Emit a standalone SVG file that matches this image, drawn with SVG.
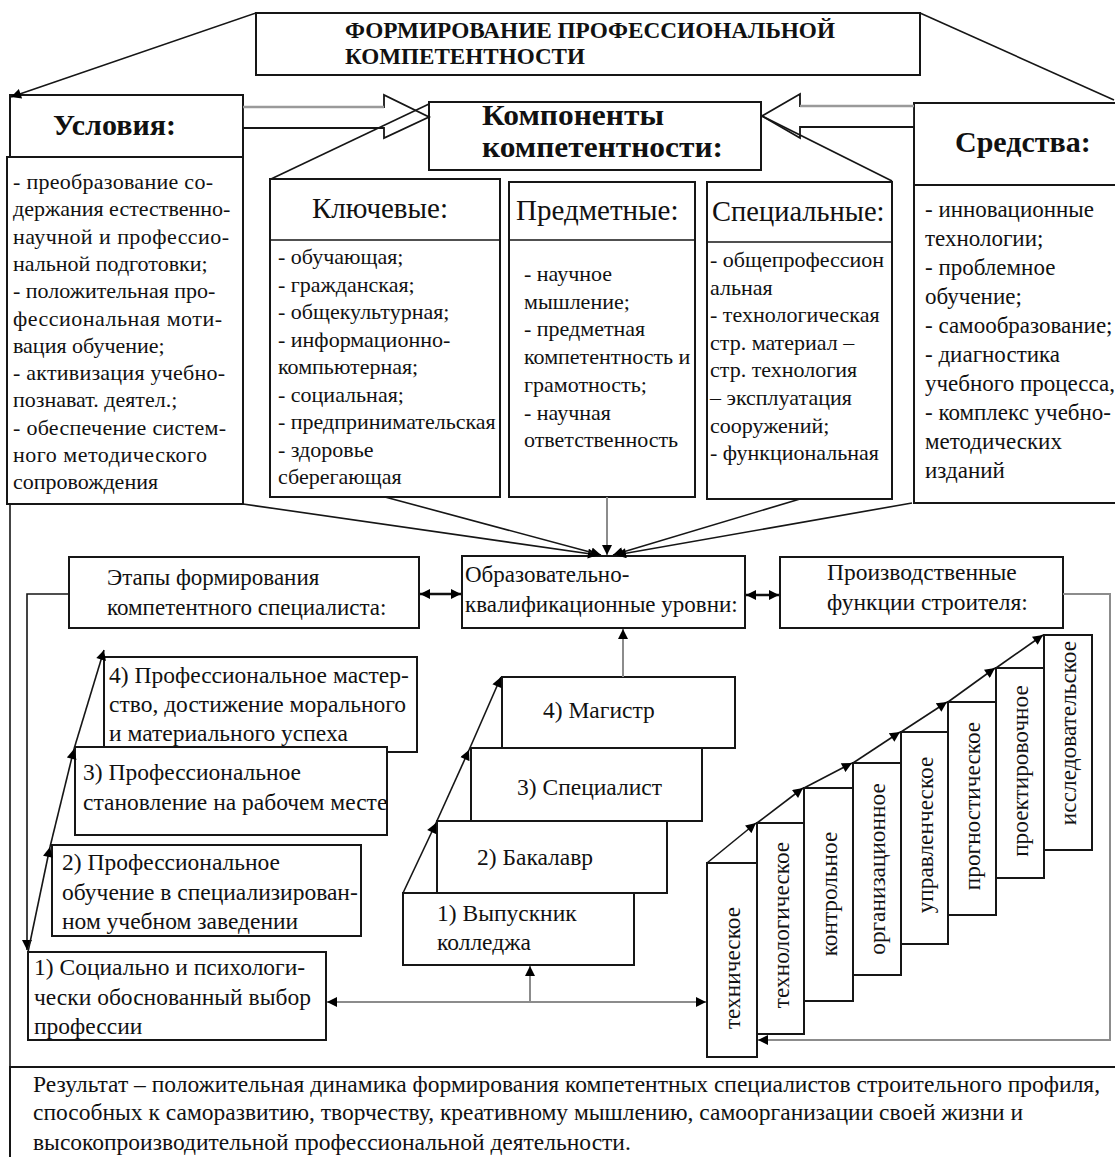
<svg xmlns="http://www.w3.org/2000/svg" width="1115" height="1157" viewBox="0 0 1115 1157">
<style>
.box{fill:#fff;stroke:#161616;stroke-width:2}
.t{font-family:"Liberation Serif","Times New Roman",serif;fill:#111}
.b{font-weight:bold}
.s22{font-size:22px}
.s23{font-size:23px}
.s235{font-size:23.5px}
.s29{font-size:29px}
.s30{font-size:30px}
.v{font-size:23.3px}
.ln{stroke:#161616;stroke-width:1.6;fill:none}
.gl{stroke:#8c8c8c;stroke-width:2;fill:none}
.dbl{stroke:#111;stroke-width:2.6;fill:none}
</style>
<defs>
<marker id="ah" viewBox="0 0 10 10" refX="10" refY="5" markerWidth="11" markerHeight="10" markerUnits="userSpaceOnUse" orient="auto-start-reverse">
<path d="M0,0 L10,5 L0,10 z" fill="#000"/>
</marker>
</defs>

<rect width="1115" height="1157" fill="#fff"/>

<g id="title">
<rect class="box" x="256" y="13" width="664" height="62"/>
<text class="t b" x="345" y="38" font-size="22.5" textLength="490" lengthAdjust="spacingAndGlyphs">ФОРМИРОВАНИЕ ПРОФЕССИОНАЛЬНОЙ</text>
<text class="t b" x="345" y="64" font-size="22.5" textLength="240" lengthAdjust="spacingAndGlyphs">КОМПЕТЕНТНОСТИ</text>
</g>

<g id="conditions">
<rect class="box" x="10" y="95" width="233" height="62"/>
<text class="t b s30" x="53" y="135">Условия:</text>
<rect class="box" x="7" y="157" width="236" height="347"/>
<g class="t s22">
<text x="13" y="189" textLength="200">- преобразование со-</text>
<text x="13" y="216.3">держания естественно-</text>
<text x="13" y="243.6" textLength="216">научной и профессио-</text>
<text x="13" y="270.9">нальной подготовки;</text>
<text x="13" y="298.2">- положительная про-</text>
<text x="13" y="325.5" textLength="209">фессиональная моти-</text>
<text x="13" y="352.8">вация обучение;</text>
<text x="13" y="380.1" textLength="212">- активизация учебно-</text>
<text x="13" y="407.4">познават. деятел.;</text>
<text x="13" y="434.7" textLength="213">- обеспечение систем-</text>
<text x="13" y="462" textLength="194">ного методического</text>
<text x="13" y="489.3">сопровождения</text>
</g>
</g>

<g id="components">
<rect class="box" x="429" y="102" width="332" height="68"/>
<text class="t b" font-size="29" x="482" y="125" textLength="182" lengthAdjust="spacingAndGlyphs">Компоненты</text>
<text class="t b" font-size="29" x="482" y="157" textLength="241" lengthAdjust="spacingAndGlyphs">компетентности:</text>
</g>

<g id="means">
<rect class="box" x="914" y="103" width="210" height="82"/>
<text class="t b s30" x="955" y="152">Средства:</text>
<rect class="box" x="914" y="185" width="210" height="318"/>
<g class="t s23">
<text x="925" y="217">- инновационные</text>
<text x="925" y="246">технологии;</text>
<text x="925" y="275">- проблемное</text>
<text x="925" y="304">обучение;</text>
<text x="925" y="333">- самообразование;</text>
<text x="925" y="362">- диагностика</text>
<text x="925" y="391">учебного процесса,</text>
<text x="925" y="420">- комплекс учебно-</text>
<text x="925" y="449">методических</text>
<text x="925" y="478">изданий</text>
</g>
</g>

<g id="key">
<rect class="box" x="270" y="179" width="230" height="318"/>
<line class="ln" x1="270" y1="240" x2="500" y2="240" stroke-width="2"/>
<text class="t s29" x="312" y="218">Ключевые:</text>
<g class="t s22">
<text x="278" y="264">- обучающая;</text>
<text x="278" y="291.5">- гражданская;</text>
<text x="278" y="319">- общекультурная;</text>
<text x="278" y="346.5">- информационно-</text>
<text x="278" y="374">компьютерная;</text>
<text x="278" y="401.5">- социальная;</text>
<text x="278" y="429">- предпринимательская</text>
<text x="278" y="456.5">- здоровье</text>
<text x="278" y="484">сберегающая</text>
</g>
</g>

<g id="subject">
<rect class="box" x="509" y="182" width="186" height="315"/>
<line class="ln" x1="509" y1="240" x2="695" y2="240" stroke-width="2"/>
<text class="t s29" x="516" y="220">Предметные:</text>
<g class="t s22">
<text x="524" y="281">- научное</text>
<text x="524" y="308.7">мышление;</text>
<text x="524" y="336.4">- предметная</text>
<text x="524" y="364.1">компетентность и</text>
<text x="524" y="391.8">грамотность;</text>
<text x="524" y="419.5">- научная</text>
<text x="524" y="447.2">ответственность</text>
</g>
</g>

<g id="special">
<rect class="box" x="707" y="182" width="185" height="317"/>
<line class="ln" x1="707" y1="242" x2="892" y2="242" stroke-width="2"/>
<text class="t" font-size="28.5" x="712" y="221">Специальные:</text>
<g class="t s22">
<text x="710" y="267">- общепрофессион</text>
<text x="710" y="294.6">альная</text>
<text x="710" y="322.2">- технологическая</text>
<text x="710" y="349.8">стр. материал –</text>
<text x="710" y="377.4">стр. технология</text>
<text x="710" y="405">– эксплуатация</text>
<text x="710" y="432.6">сооружений;</text>
<text x="710" y="460.2">- функциональная</text>
</g>
</g>

<g id="stages">
<rect class="box" x="69" y="557" width="350" height="71"/>
<text class="t s23" x="107" y="585">Этапы формирования</text>
<text class="t s23" x="107" y="615">компетентного специалиста:</text>
</g>

<g id="levels">
<rect class="box" x="462" y="556" width="283" height="72"/>
<text class="t s23" x="465" y="582">Образовательно-</text>
<text class="t s23" x="465" y="612">квалификационные уровни:</text>
</g>

<g id="functions">
<rect class="box" x="780" y="557" width="283" height="71"/>
<text class="t s235" x="827" y="580">Производственные</text>
<text class="t s235" x="827" y="610">функции строителя:</text>
</g>

<g id="stage4">
<rect class="box" x="104" y="657" width="313" height="95"/>
<text class="t s235" x="109" y="683">4) Профессиональное мастер-</text>
<text class="t s235" x="109" y="712">ство, достижение морального</text>
<text class="t s235" x="109" y="741">и материального успеха</text>
</g>
<g id="stage3">
<rect class="box" x="75" y="747" width="312" height="88"/>
<text class="t s235" x="83" y="780">3) Профессиональное</text>
<text class="t s235" x="83" y="810">становление на рабочем месте</text>
</g>
<g id="stage2">
<rect class="box" x="52" y="845" width="309" height="91"/>
<text class="t s235" x="62" y="870">2) Профессиональное</text>
<text class="t s235" x="62" y="900">обучение в специализирован-</text>
<text class="t s235" x="62" y="929">ном учебном заведении</text>
</g>
<g id="stage1">
<rect class="box" x="28" y="952" width="298" height="88"/>
<text class="t s235" x="34" y="975">1) Социально и психологи-</text>
<text class="t s235" x="34" y="1005">чески обоснованный выбор</text>
<text class="t s235" x="34" y="1034">профессии</text>
</g>

<g id="level4">
<rect class="box" x="502" y="677" width="233" height="71"/>
<text class="t s235" x="543" y="718">4) Магистр</text>
</g>
<g id="level3">
<rect class="box" x="471" y="748" width="231" height="73"/>
<text class="t s235" x="517" y="795">3) Специалист</text>
</g>
<g id="level2">
<rect class="box" x="437" y="821" width="230" height="72"/>
<text class="t s235" x="477" y="865">2) Бакалавр</text>
</g>
<g id="level1">
<rect class="box" x="403" y="893" width="231" height="72"/>
<text class="t s235" x="437" y="921">1) Выпускник</text>
<text class="t s235" x="437" y="950">колледжа</text>
</g>

<g id="f8">
<rect class="box" x="1044" y="635" width="48" height="215"/>
<text class="t v" transform="translate(1075.5,733) rotate(-90)" text-anchor="middle">исследовательское</text>
</g>
<g id="f7">
<rect class="box" x="996" y="668" width="48" height="210"/>
<text class="t v" transform="translate(1027.5,771) rotate(-90)" text-anchor="middle">проектировочное</text>
</g>
<g id="f6">
<rect class="box" x="948" y="702" width="48" height="213"/>
<text class="t v" transform="translate(979.5,806) rotate(-90)" text-anchor="middle">прогностическое</text>
</g>
<g id="f5">
<rect class="box" x="901" y="732" width="47" height="212"/>
<text class="t v" transform="translate(932.5,835) rotate(-90)" text-anchor="middle">управленческое</text>
</g>
<g id="f4">
<rect class="box" x="853" y="763" width="48" height="212"/>
<text class="t v" transform="translate(884.5,869) rotate(-90)" text-anchor="middle">организационное</text>
</g>
<g id="f3">
<rect class="box" x="804" y="788" width="49" height="213"/>
<text class="t v" transform="translate(836.5,894) rotate(-90)" text-anchor="middle">контрольное</text>
</g>
<g id="f2">
<rect class="box" x="757" y="823" width="47" height="211"/>
<text class="t v" transform="translate(788.5,925) rotate(-90)" text-anchor="middle">технологическое</text>
</g>
<g id="f1">
<rect class="box" x="707" y="863" width="50" height="194"/>
<text class="t v" transform="translate(739.5,968) rotate(-90)" text-anchor="middle">техническое</text>
</g>

<g id="result">
<rect class="box" x="10" y="1067" width="1115" height="100"/>
<text class="t s235" x="33" y="1092">Результат – положительная динамика формирования компетентных специалистов строительного профиля,</text>
<text class="t s235" x="33" y="1120">способных к саморазвитию, творчеству, креативному мышлению, самоорганизации своей жизни и</text>
<text class="t s235" x="33" y="1150">высокопроизводительной профессиональной деятельности.</text>
</g>

<g id="connectors">
<line class="ln" x1="256" y1="13" x2="11" y2="97" marker-end="url(#ah)"/>
<line class="ln" x1="920" y1="13" x2="1114" y2="100"/>
<polygon points="243,107 384,107 384,95 429,117 384,138 384,128 243,128" fill="#fff" stroke="#161616" stroke-width="1.8"/>
<line x1="243" y1="107" x2="384" y2="107" stroke="#9a9a9a" stroke-width="2.6"/>
<polygon points="914,106 800,106 800,94 762,116 800,138 800,127 914,127" fill="#fff" stroke="#161616" stroke-width="1.8"/>
<line x1="914" y1="106" x2="800" y2="106" stroke="#9a9a9a" stroke-width="2.6"/>
<line class="ln" x1="429" y1="104" x2="271" y2="179"/>
<line class="ln" x1="762" y1="116" x2="892" y2="181"/>

<line class="ln" x1="243" y1="504" x2="598" y2="555" marker-end="url(#ah)"/>
<line class="ln" x1="385" y1="497" x2="601" y2="555" marker-end="url(#ah)"/>
<line class="gl" x1="607" y1="497" x2="607" y2="555" marker-end="url(#ah)"/>
<line class="ln" x1="800" y1="499" x2="613" y2="555" marker-end="url(#ah)"/>
<line class="ln" x1="912" y1="503" x2="616" y2="555" marker-end="url(#ah)"/>

<line class="ln" x1="10" y1="504" x2="10" y2="1067" stroke="#333"/>

<line class="dbl" x1="420" y1="594" x2="461" y2="594" marker-start="url(#ah)" marker-end="url(#ah)"/>
<line class="dbl" x1="746" y1="595" x2="779" y2="595" marker-start="url(#ah)" marker-end="url(#ah)"/>

<polyline class="ln" points="69,594 27,594 27,950" marker-end="url(#ah)"/>
<line class="ln" x1="28" y1="952" x2="50" y2="847" marker-end="url(#ah)"/>
<line class="ln" x1="50" y1="847" x2="74" y2="749" marker-end="url(#ah)"/>
<line class="ln" x1="74" y1="749" x2="104" y2="650" marker-end="url(#ah)"/>

<line class="ln" x1="403" y1="893" x2="436" y2="823" marker-end="url(#ah)"/>
<line class="ln" x1="436" y1="823" x2="469" y2="750" marker-end="url(#ah)"/>
<line class="ln" x1="469" y1="750" x2="501" y2="677" marker-end="url(#ah)"/>

<line class="gl" x1="623" y1="677" x2="623" y2="629" marker-end="url(#ah)"/>

<line class="gl" x1="327" y1="1002" x2="706" y2="1002" marker-start="url(#ah)" marker-end="url(#ah)"/>
<line class="gl" x1="530" y1="1002" x2="530" y2="966" marker-end="url(#ah)"/>

<line class="ln" x1="707" y1="863" x2="756" y2="823" marker-end="url(#ah)"/>
<line class="ln" x1="757" y1="823" x2="803" y2="788" marker-end="url(#ah)"/>
<line class="ln" x1="804" y1="788" x2="852" y2="763" marker-end="url(#ah)"/>
<line class="ln" x1="853" y1="763" x2="900" y2="732" marker-end="url(#ah)"/>
<line class="ln" x1="901" y1="732" x2="947" y2="702" marker-end="url(#ah)"/>
<line class="ln" x1="948" y1="702" x2="995" y2="668" marker-end="url(#ah)"/>
<line class="ln" x1="996" y1="668" x2="1043" y2="635" marker-end="url(#ah)"/>

<polyline class="gl" points="1063,594 1110,594 1110,1040 758,1040" marker-end="url(#ah)"/>
</g>
</svg>
